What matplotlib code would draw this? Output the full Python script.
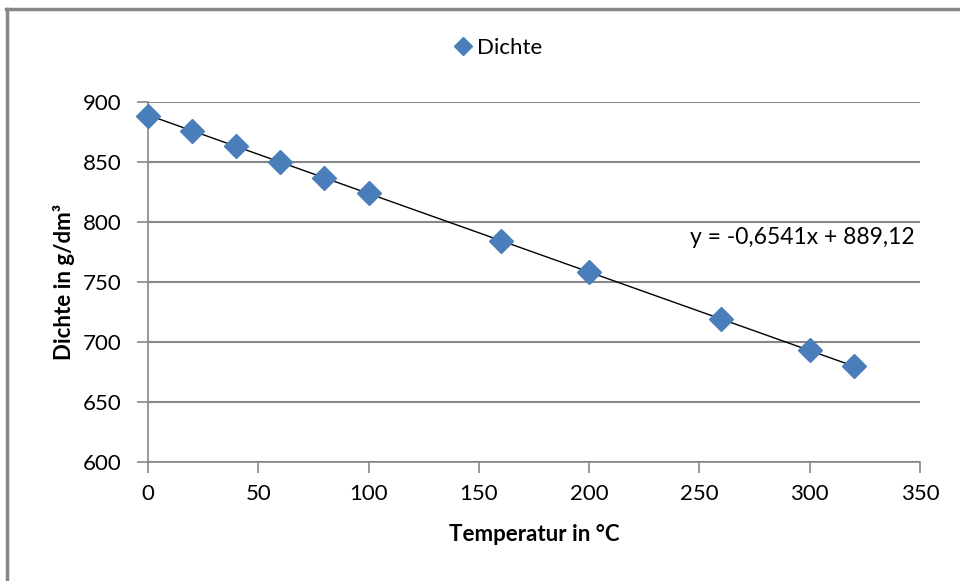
import matplotlib
matplotlib.use("Agg")
import matplotlib.pyplot as plt
from matplotlib.lines import Line2D
import numpy as np

plt.rcParams['font.family'] = ['Lato', 'DejaVu Sans']

# Measured density of the liquid at each temperature
temperatur = [0, 20, 40, 60, 80, 100, 160, 200, 260, 300, 320]
dichte = [888, 876, 863, 850, 837, 824, 784, 758, 719, 693, 680]

# Linear trendline coefficients
slope = -0.6541
intercept = 889.12

x_ticks = [0, 50, 100, 150, 200, 250, 300, 350]
y_ticks = [600, 650, 700, 750, 800, 850, 900]

marker_color = '#4A7EBB'
grid_color = '#878787'

fig = plt.figure(figsize=(9.6, 5.81), dpi=100)
ax = fig.add_axes([148 / 960, 1 - 462 / 581, 772 / 960, 360 / 581])

# trendline over the measured range
xt = np.array([min(temperatur), max(temperatur)])
ax.plot(xt, slope * xt + intercept, color='black', linewidth=1.0, zorder=2,
        clip_on=False)

ax.plot(temperatur, dichte, linestyle='none', marker='D', markersize=12.5,
        color=marker_color, markeredgecolor=marker_color, zorder=3, clip_on=False)

ax.set_xlim(0, 350)
ax.set_ylim(600, 900)
ax.set_xticks(x_ticks)
ax.set_yticks(y_ticks)
ax.yaxis.grid(True, color=grid_color, linewidth=1.5)
ax.set_axisbelow(True)

for side in ('top', 'right'):
    ax.spines[side].set_visible(False)
for side in ('left', 'bottom'):
    ax.spines[side].set_color(grid_color)
    ax.spines[side].set_linewidth(1.2)

ax.tick_params(axis='both', direction='out', length=8, width=1.2, color=grid_color,
               labelsize=16)
ax.tick_params(axis='x', pad=8)
ax.tick_params(axis='y', pad=11)

ax.set_xlabel('Temperatur in °C', fontsize=16, fontweight='bold', labelpad=14)
ax.set_ylabel('Dichte in g/dm³', fontsize=16, fontweight='bold', labelpad=6)

sign = '-' if slope < 0 else ''
eq = f"y = {sign}{abs(slope):.4f}x + {intercept:.2f}".replace('.', ',')
ax.text(915 / 960, 1 - 237 / 581, eq, transform=fig.transFigure, ha='right', va='center',
        fontsize=16.5)

fig.legend(handles=[Line2D([], [], linestyle='none', marker='D', markersize=9,
                           color=marker_color, label='Dichte')],
           loc='center', bbox_to_anchor=(497 / 960, 1 - 48 / 581), frameon=False,
           fontsize=16, handletextpad=0.1, handlelength=1.0)

# outer chart frame
fig.add_artist(Line2D([6 / 960, 1.0], [1 - 9 / 581, 1 - 9 / 581], color=grid_color,
                      linewidth=2.5, transform=fig.transFigure))
fig.add_artist(Line2D([7 / 960, 7 / 960], [0, 1 - 9 / 581], color=grid_color,
                      linewidth=2.5, transform=fig.transFigure))

fig.savefig('out.png', dpi=100)
